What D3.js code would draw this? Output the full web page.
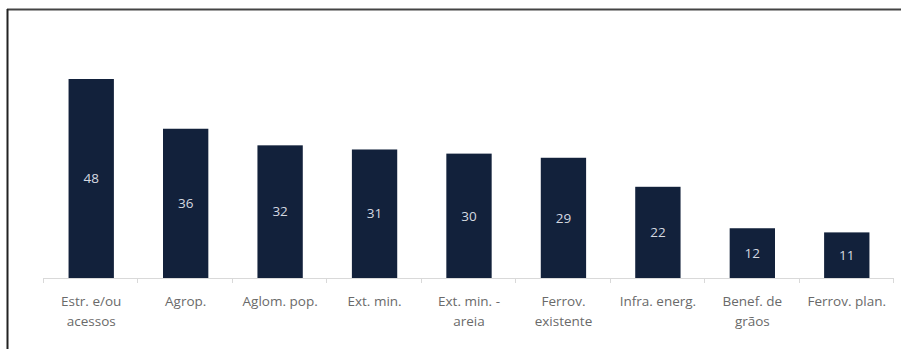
<!DOCTYPE html>
<html>
<head>
<meta charset="utf-8">
<script src="https://cdn.jsdelivr.net/npm/d3@7"></script>
<style>
  body { margin: 0; background: #fff; }
  svg { display: block; }
  text { font-family: "Open Sans", "Noto Sans", sans-serif; }
</style>
</head>
<body>
<svg width="901" height="349"></svg>
<script>
var categories = ["Estr. e/ou\nacessos", "Agrop.", "Aglom. pop.", "Ext. min.", "Ext. min. -\nareia",
	"Ferrov.\nexistente", "Infra. energ.", "Benef. de\ngrãos", "Ferrov. plan."];
var values = [48, 36, 32, 31, 30, 29, 22, 12, 11];

var svg = d3.select("svg"),
	margin = {top: 79, right: 8, bottom: 71, left: 43},
	width = +svg.attr("width") - margin.left - margin.right,
	height = +svg.attr("height") - margin.top - margin.bottom;

// frame (cropped border of the original)
svg.append("line")
	.attr("x1", 7).attr("x2", 901).attr("y1", 9.5).attr("y2", 9.5)
	.attr("stroke", "#444").attr("stroke-width", 2);
svg.append("line")
	.attr("x1", 7.5).attr("x2", 7.5).attr("y1", 9).attr("y2", 349)
	.attr("stroke", "#222").attr("stroke-width", 2);

var g = svg.append("g").attr("transform", "translate(" + margin.left + "," + margin.top + ")");

var x = d3.scaleBand().domain(categories).range([1, width + 1]).paddingInner(0.52).paddingOuter(0.26);
var y = d3.scaleLinear().domain([0, 48]).range([height, 0]);

// axis line and boundary ticks
g.append("line")
	.attr("x1", 0).attr("x2", width).attr("y1", height + 0.5).attr("y2", height + 0.5)
	.attr("stroke", "#d9d9d9");
g.selectAll(".tick")
	.data(d3.range(categories.length + 1))
	.enter().append("line")
	.attr("class", "tick")
	.attr("x1", function(i) { return Math.round(i * width / categories.length) + 0.5; })
	.attr("x2", function(i) { return Math.round(i * width / categories.length) + 0.5; })
	.attr("y1", height).attr("y2", height + 5)
	.attr("stroke", "#d9d9d9");

g.selectAll(".bar")
	.data(values)
	.enter().append("rect")
	.attr("class", "bar")
	.attr("x", function(d, i) { return x(categories[i]); })
	.attr("width", x.bandwidth())
	.attr("y", function(d) { return y(d); })
	.attr("height", function(d) { return height - y(d); })
	.attr("fill", "#12213b");

g.selectAll(".val")
	.data(values)
	.enter().append("text")
	.attr("class", "val")
	.attr("x", function(d, i) { return x(categories[i]) + x.bandwidth() / 2; })
	.attr("y", function(d) { return (y(d) + height) / 2; })
	.attr("dy", "0.35em")
	.attr("text-anchor", "middle")
	.attr("fill", "#d5d9e0")
	.attr("font-size", "13.5px")
	.text(function(d) { return d; });

var lbl = g.selectAll(".lbl")
	.data(categories)
	.enter().append("text")
	.attr("class", "lbl")
	.attr("text-anchor", "middle")
	.attr("fill", "#6a6a6a")
	.attr("font-size", "13.5px")
	.attr("transform", function(d) { return "translate(" + (x(d) + x.bandwidth() / 2) + "," + (height + 28) + ")"; });

lbl.selectAll("tspan")
	.data(function(d) { return d.split("\n"); })
	.enter().append("tspan")
	.attr("x", 0)
	.attr("y", function(d, i) { return i * 20; })
	.text(function(d) { return d; });
</script>
</body>
</html>
